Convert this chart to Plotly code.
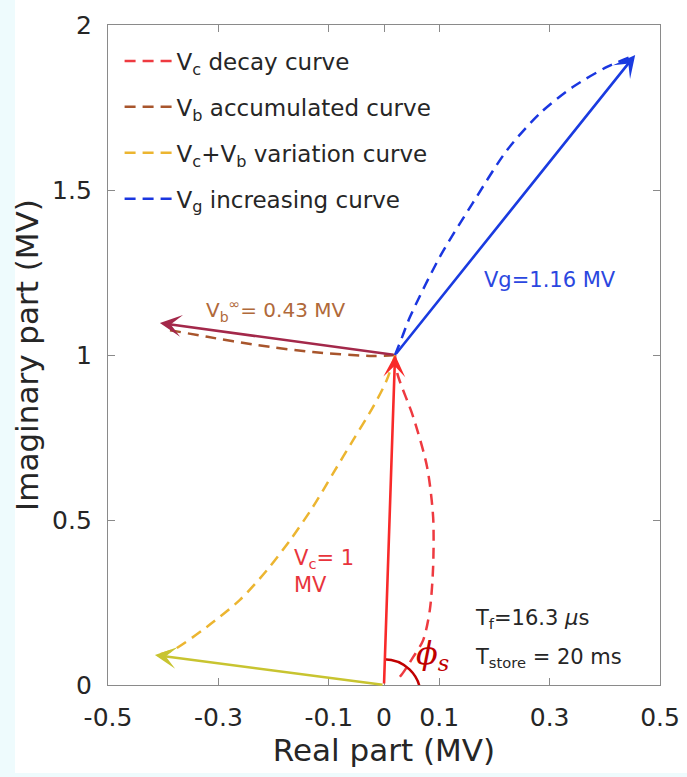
import plotly.graph_objects as go

# ---------------- data (MV) ----------------
x_ticks = [-0.5, -0.3, -0.1, 0, 0.1, 0.3, 0.5]
x_ticklabels = ["-0.5", "-0.3", "-0.1", "0", "0.1", "0.3", "0.5"]
y_ticks = [0, 0.5, 1, 1.5, 2]
y_ticklabels = ["0", "0.5", "1", "1.5", "2"]

# dashed curves
vc_x = [0.02, 0.024, 0.053, 0.078, 0.089, 0.089, 0.083, 0.071, 0.053, 0.034, 0.024]
vc_y = [1.0, 0.945, 0.812, 0.661, 0.509, 0.358, 0.227, 0.136, 0.085, 0.036, 0.015]

vb_x = [0.02, -0.02, -0.129, -0.23, -0.32, -0.39]
vb_y = [1.0, 0.997, 1.009, 1.03, 1.055, 1.076]

vcb_x = [0.02, 0.005, -0.020, -0.056, -0.092, -0.129, -0.170, -0.212, -0.261, -0.321, -0.382, -0.411]
vcb_y = [1.0, 0.924, 0.842, 0.742, 0.642, 0.539, 0.439, 0.348, 0.258, 0.176, 0.106, 0.091]

vg_x = [0.02, 0.033, 0.047, 0.101, 0.161, 0.223, 0.283, 0.342, 0.404, 0.446]
vg_y = [1.0, 1.055, 1.115, 1.297, 1.461, 1.621, 1.733, 1.812, 1.873, 1.903]

# phasor arrows: (tail_x, tail_y, tip_x, tip_y)
arrow_vc = (0.0, 0.0, 0.02, 1.0)
arrow_vg = (0.02, 1.0, 0.455, 1.909)
arrow_vb = (0.02, 1.0, -0.406, 1.097)
arrow_vcb = (0.0, 0.0, -0.415, 0.091)

series_names = [
    "V<sub>c</sub> decay curve",
    "V<sub>b</sub> accumulated curve",
    "V<sub>c</sub>+V<sub>b</sub> variation curve",
    "V<sub>g</sub> increasing curve",
]

# ---------------- styles ----------------
FONT = "DejaVu Sans"
TXT = "#262626"
AX = "#8a8a8a"
DASH = "11px,7px"

c_red_d = "#ee3a40"
c_brown_d = "#a8552c"
c_yel_d = "#ecb530"
c_blue_d = "#1a36e0"

c_red = "#f82a2a"
c_vb = "#a3284a"
c_yel = "#c8c430"
c_blue = "#1a3be0"

fig = go.Figure()

for xs, ys, col, name, g in [
    (vc_x, vc_y, c_red_d, series_names[0], "a"),
    (vb_x, vb_y, c_brown_d, series_names[1], "b"),
    (vcb_x, vcb_y, c_yel_d, series_names[2], "c"),
    (vg_x, vg_y, c_blue_d, series_names[3], "d"),
]:
    fig.add_trace(go.Scatter(
        x=xs, y=ys, mode="lines", name=name, legendgroup=g,
        line=dict(color=col, width=2.5, dash=DASH, shape="spline", smoothing=0.8),
        hoverinfo="skip",
    ))

annotations = []
for (tx, ty, hx, hy), col in [
    (arrow_vc, c_red), (arrow_vg, c_blue), (arrow_vb, c_vb), (arrow_vcb, c_yel)
]:
    annotations.append(dict(
        x=hx, y=hy, ax=tx, ay=ty, xref="x", yref="y", axref="x", ayref="y",
        text="", showarrow=True, arrowhead=3, arrowsize=1.4, arrowwidth=2.6,
        arrowcolor=col, standoff=0,
    ))

def label(x, y, text, color, size=21, xanchor="center", align="center"):
    annotations.append(dict(
        x=x, y=y, xref="x", yref="y", text=text, showarrow=False,
        font=dict(family=FONT, size=size, color=color),
        xanchor=xanchor, yanchor="middle", align=align,
    ))

label(0.301, 1.227, "Vg=1.16 MV", "#2b47e0")
label(-0.326, 1.136, "V<sub>b</sub><sup>∞</sup>= 0.43 MV", "#b0693a", size=20, xanchor="left")
label(-0.167, 0.345, "V<sub>c</sub>= 1<br>MV", "#e8343c", xanchor="left", align="left")
label(0.161, 0.2, "T<sub>f</sub>=16.3 <i>μ</i>s", TXT, xanchor="left")
label(0.161, 0.082, "T<sub>store</sub> = 20 ms", TXT, xanchor="left")
annotations.append(dict(
    x=0.054, y=0.09, xref="x", yref="y", showarrow=False,
    text="<i>ϕ</i><sub><i>s</i></sub>", xanchor="left", yanchor="middle",
    font=dict(family="DejaVu Serif", size=32, color="#c00000"),
))

# phase angle arc (quarter ellipse from top to right, centred slightly below origin)
cy, rx, ry, k = -0.03, 0.066, 0.108, 0.5523
arc_path = (f"M 0,{cy + ry} C {k * rx},{cy + ry} {rx},{cy + k * ry} {rx},{cy}")

shapes = [
    dict(type="rect", xref="paper", yref="paper", x0=-108 / 552, x1=(15 - 108) / 552,
         y0=-92 / 660, y1=1 + 25 / 660, fillcolor="#eefbfd", line=dict(width=0),
         layer="below"),
    dict(type="rect", xref="paper", yref="paper", x0=-108 / 552, x1=1 + 27 / 552,
         y0=-92 / 660, y1=-88 / 660, fillcolor="#eefbfd", line=dict(width=0),
         layer="below"),
    dict(type="path", xref="x", yref="y", path=arc_path,
         line=dict(color="#c00000", width=2.5)),
]

axis_common = dict(
    showgrid=False, zeroline=False, showline=True, mirror="ticks",
    linecolor=AX, linewidth=1.3, ticks="inside", ticklen=7, tickcolor=AX,
    tickwidth=1.3, tickfont=dict(family=FONT, size=25, color=TXT),
)

fig.update_layout(
    width=687, height=777, autosize=False,
    margin=dict(l=108, r=27, t=25, b=92),
    paper_bgcolor="white", plot_bgcolor="white",
    font=dict(family=FONT, color=TXT),
    xaxis=dict(range=[-0.5, 0.5], tickvals=x_ticks, ticktext=x_ticklabels,
               title=dict(text="Real part (MV)", font=dict(family=FONT, size=31, color=TXT),
                          standoff=0),
               ticklabelstandoff=10, automargin=False, **axis_common),
    yaxis=dict(range=[0, 2], tickvals=y_ticks, ticktext=y_ticklabels,
               title=dict(text="Imaginary part (MV)", font=dict(family=FONT, size=31, color=TXT),
                          standoff=4),
               ticklabelstandoff=10, automargin=False, **axis_common),
    showlegend=True,
    legend=dict(x=0.021, y=0.978, xanchor="left", yanchor="top",
                bgcolor="rgba(0,0,0,0)", borderwidth=0, itemwidth=47,
                tracegroupgap=13,
                font=dict(family=FONT, size=23, color=TXT)),
    annotations=annotations, shapes=shapes,
)

fig.write_html("out.html", config={"displayModeBar": False},
               post_script="document.body.style.margin='0px';")
